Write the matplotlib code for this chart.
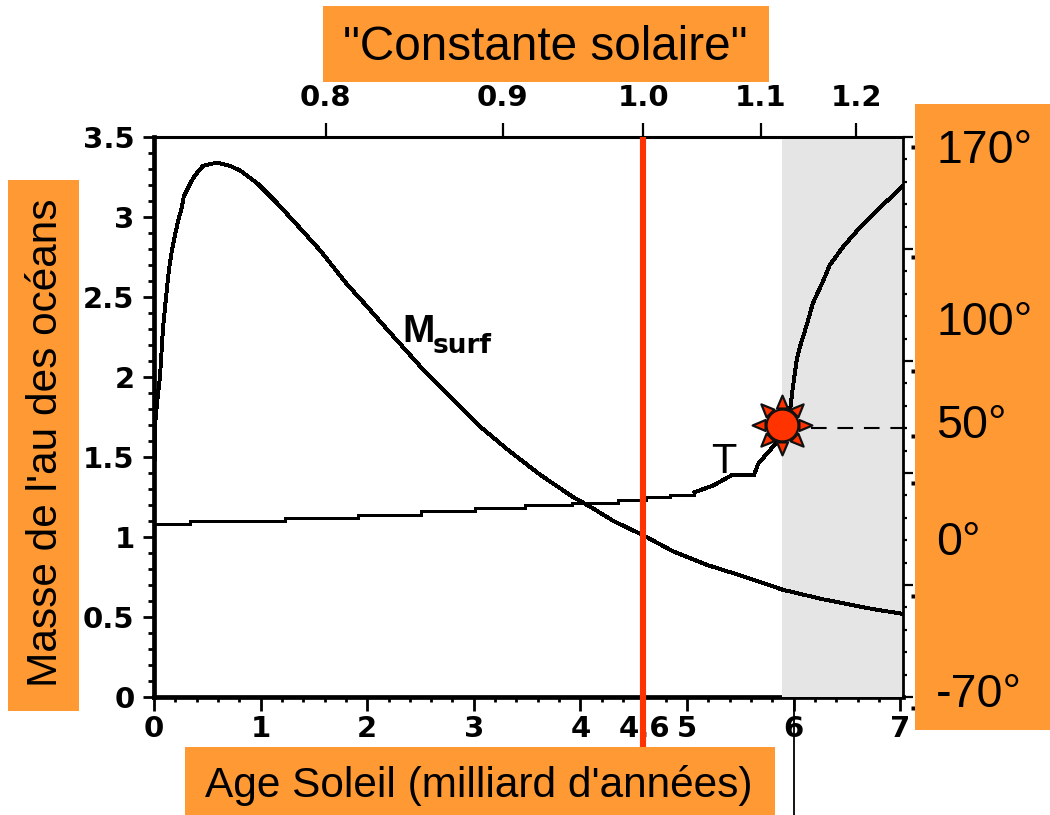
import matplotlib
matplotlib.use("Agg")
import matplotlib.pyplot as plt
from matplotlib.patches import Rectangle
from matplotlib.path import Path
import numpy as np

W, H = 1050, 815
X0, X1, Y0, Y1 = 154, 903, 697, 137   # axes frame in pixels

# ---- data ----
age_ticks = [0, 1, 2, 3, 4, 4.6, 5, 6, 7]
age_labels = ["0", "1", "2", "3", "4", "4.6", "5", "6", "7"]
age_minor = [0.2, 0.4, 0.6, 0.8, 1.2, 1.4, 1.6, 1.8, 2.2, 2.4, 2.6, 2.8, 3.2, 3.4, 3.6, 3.8,
             4.2, 4.4, 4.8, 5.2, 5.4, 5.6, 5.8, 6.2, 6.4, 6.6, 6.8]
mass_ticks = [0, 0.5, 1, 1.5, 2, 2.5, 3, 3.5]
mass_labels = ["0", "0.5", "1", "1.5", "2", "2.5", "3", "3.5"]
solar_ages = [1.61, 3.27, 4.59, 5.69, 6.59]
solar_labels = ["0.8", "0.9", "1.0", "1.1", "1.2"]
temp_labels = ["170°", "100°", "50°", "0°", "-70°"]
temp_label_px = [151, 323, 426, 543, 695]
right_major = [0, 0.7, 1.4, 2.1, 2.8, 3.5]
right_minor = [0.14, 0.28, 0.42, 0.56, 0.84, 0.98, 1.12, 1.26, 1.54, 1.68, 1.82, 1.96,
               2.24, 2.38, 2.52, 2.66, 2.94, 3.08, 3.22, 3.36]
temp_bits = [3.44, 2.75, 2.04, 1.63, 1.34, 0.63, -0.07]

m_age = [0.0, 0.01, 0.03, 0.056, 0.084, 0.11, 0.14, 0.17, 0.20, 0.225, 0.26, 0.28, 0.34, 0.385, 0.46, 0.59,
         0.71, 0.81, 0.97, 1.15, 1.37, 1.56, 1.81, 2.0, 2.21, 2.52, 2.80, 3.06, 3.31, 3.62, 3.93, 4.09, 4.31,
         4.56, 4.62, 4.87, 5.19, 5.50, 5.90, 6.28, 6.74, 7.02]
m_val = [1.25, 1.70, 1.85, 2.0, 2.30, 2.48, 2.67, 2.80, 2.90, 2.97, 3.06, 3.13, 3.21, 3.26, 3.32, 3.34,
         3.32, 3.29, 3.21, 3.09, 2.93, 2.79, 2.58, 2.44, 2.28, 2.05, 1.86, 1.69, 1.55, 1.39, 1.25, 1.19, 1.10,
         1.02, 1.0, 0.91, 0.825, 0.76, 0.67, 0.61, 0.55, 0.52]
t_low_age = [0, 0.34, 1.23, 1.91, 2.50, 3.01, 3.48, 3.92, 4.35, 4.62, 4.84, 5.07]
t_low_val = [1.08, 1.10, 1.12, 1.14, 1.16, 1.18, 1.20, 1.21, 1.23, 1.25, 1.26, 1.28]
t_age = [5.07, 5.24, 5.43, 5.63, 5.67, 5.84, 5.97, 5.99, 6.03, 6.06, 6.13, 6.18, 6.27, 6.34, 6.46, 6.59, 6.78, 7.02]
t_val = [1.28, 1.32, 1.39, 1.39, 1.46, 1.59, 1.81, 1.92, 2.11, 2.19, 2.34, 2.46, 2.59, 2.70, 2.81, 2.91, 3.04, 3.19]
sun_age, sun_val = 5.89, 1.70
gray_start = 5.89
now_age = 4.59
six_age = 6.0
dash_end = 7.12
bit_age = 7.12

ORANGE = "#FF9933"
RED = "#FF3300"
GRAY = "#E5E5E5"
TICKFONT = {"family": "DejaVu Sans", "weight": "bold", "size": 21}
LABEL = "Liberation Sans"

fig = plt.figure(figsize=(W / 100, H / 100), dpi=100, facecolor="white")
ax = fig.add_axes([X0 / W, 1 - Y0 / H, (X1 - X0) / W, (Y0 - Y1) / H])
ax.set_xlim(0, (X1 - X0) / 106.6)
ax.set_ylim(0, 3.5)
ax.patch.set_visible(False)

ax.axvspan(gray_start, ax.get_xlim()[1] - 0.012, ymin=0.0, ymax=0.997, color=GRAY, lw=0, zorder=3)

ax.plot(m_age, m_val, color="black", lw=2.1, zorder=5, solid_joinstyle="miter", antialiased=False)
ax.plot(t_low_age, t_low_val, color="black", lw=2.1, zorder=5, drawstyle="steps-post", antialiased=False)
ax.plot(t_age, t_val, color="black", lw=2.1, zorder=5, solid_joinstyle="miter", antialiased=False)

ax.plot([now_age, now_age], [-0.32, 3.5], color=RED, lw=4.4, zorder=6, clip_on=False, solid_capstyle="butt")
ax.plot([six_age, six_age], [-0.74, 0], color="black", lw=1.3, zorder=6, clip_on=False, solid_capstyle="butt")
ax.plot([sun_age + 0.27, dash_end], [sun_val - 0.02, sun_val - 0.02], color="black", lw=1.5,
        dashes=(7.5, 5.2), zorder=5, clip_on=False)
ax.plot([bit_age] * len(temp_bits), temp_bits, ls="none", marker="s", ms=2.6, mfc="black", mec="none",
        clip_on=False, zorder=5)

# sun rays marker
rays = []
for k in range(8):
    a = k * np.pi / 4
    u = np.array([np.cos(a), np.sin(a)])
    n = np.array([-u[1], u[0]])
    rays += [tuple(u * 30), tuple(u * 17 + n * 5.5), tuple(u * 17 - n * 5.5), tuple(u * 30)]
codes = [Path.MOVETO, Path.LINETO, Path.LINETO, Path.CLOSEPOLY] * 8
ray_path = Path(np.array(rays) / 30.0, codes)
ax.plot([sun_age], [sun_val], marker=ray_path, ms=43, mfc=RED, mec="#111111", mew=1.6, zorder=7, clip_on=False, ls="none")
ax.plot([sun_age], [sun_val], marker="o", ms=23, mfc=RED, mec="#111111", mew=1.6, zorder=8, clip_on=False, ls="none")

# text labels in the plot
ax.text(5.35, 1.40, "T", ha="center", va="baseline", fontfamily=LABEL, fontsize=30, zorder=6)
ax.text(2.33, 2.22, "M", ha="left", va="baseline", fontfamily=LABEL, fontweight="bold", fontsize=28, zorder=6)
ax.text(2.61, 2.15, "surf", ha="left", va="baseline", fontfamily="DejaVu Sans", fontweight="bold", fontsize=19, zorder=6)

# spines and ticks
for s in ax.spines.values():
    s.set_color("black")
ax.spines["left"].set_linewidth(3.4)
ax.spines["bottom"].set_linewidth(3.4)
ax.spines["top"].set_linewidth(2.2)
ax.spines["right"].set_linewidth(2)

ax.set_xticks(age_ticks)
ax.set_xticklabels(age_labels, **TICKFONT)
ax.set_xticks(age_minor, minor=True)
ax.set_yticks(mass_ticks)
ax.set_yticklabels(mass_labels, **TICKFONT)
ax.set_yticks(np.arange(0.1, 3.5, 0.1), minor=True)
ax.tick_params(axis="x", which="major", length=10, width=2, pad=3, direction="out")
ax.tick_params(axis="x", which="minor", length=3.5, width=2, direction="out")
ax.tick_params(axis="y", which="major", length=8, width=2, pad=6, direction="out")
ax.tick_params(axis="y", which="minor", length=4.5, width=2, direction="out")

top = ax.secondary_xaxis("top")
top.set_xticks(solar_ages)
top.set_xticklabels(solar_labels, **TICKFONT)
top.tick_params(axis="x", length=10, width=1.6, pad=8)
top.spines["top"].set_visible(False)

r = ax.secondary_yaxis("right")
r.set_yticks(right_major)
r.set_yticklabels([])
r.set_yticks(right_minor, minor=True)
r.tick_params(axis="y", which="major", length=7, width=1.6)
r.tick_params(axis="y", which="minor", length=3, width=1.6)
r.spines["right"].set_visible(False)


def box(x0, y0, x1, y1):
    fig.add_artist(Rectangle((x0 / W, 1 - y1 / H), (x1 - x0) / W, (y1 - y0) / H, transform=fig.transFigure,
                             facecolor=ORANGE, edgecolor="none", zorder=10))


def label(x, y, s, size, ha="center", va="center", rot=0):
    fig.text(x / W, 1 - y / H, s, ha=ha, va=va, rotation=rot, fontsize=size, fontfamily=LABEL, color="black", zorder=11)


box(323, 6, 769, 82)
box(8, 180, 79, 711)
box(185, 747, 775, 815)
box(915, 104, 1050, 730)
label(545, 48, '"Constante solaire"', 34.3)
label(46, 443, "Masse de l'au des océans", 30.5, rot=90)
label(479, 785, "Age Soleil (milliard d'années)", 30.5)
for s, py in zip(temp_labels, temp_label_px):
    label(936, py, s, 33.5, ha="left")

fig.savefig("out.png", dpi=100)
